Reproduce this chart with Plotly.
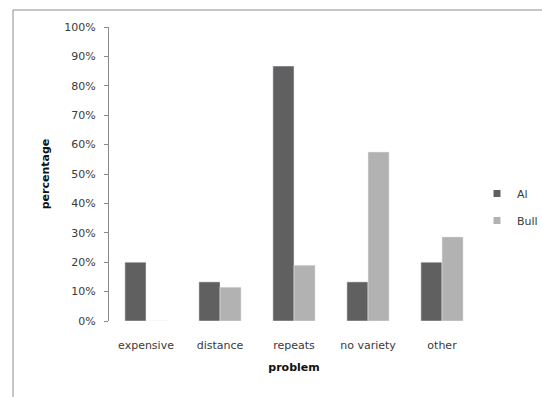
import plotly.graph_objects as go

categories = ["expensive", "distance", "repeats", "no variety", "other"]
al_values = [0.200, 0.133, 0.867, 0.133, 0.200]
bull_values = [0.0, 0.115, 0.190, 0.575, 0.286]
y_ticks = [i / 10 for i in range(11)]
series_names = ["Al", "Bull"]

AL_COLOR = "#606060"
BULL_COLOR = "#b2b2b2"
TEXT_COLOR = "#3a3a3a"
FONT = "DejaVu Sans"

fig = go.Figure()
for name, vals, col in [(series_names[0], al_values, AL_COLOR),
                        (series_names[1], bull_values, BULL_COLOR)]:
    fig.add_trace(go.Bar(name=name, x=categories, y=vals, marker_color=col,
                         showlegend=False))
    # small square legend keys
    fig.add_trace(go.Scatter(name=name, x=[None], y=[None], mode="markers",
                             marker=dict(symbol="square", size=7, color=col),
                             legendgroup=name, showlegend=True))

# plot area: x 109..479, y 27..321 px
L, R, T, B = 109, 63, 27, 76
W, H = 542, 397
pw, ph = W - L - R, H - T - B

fig.update_layout(
    width=W, height=H,
    margin=dict(l=L, r=R, t=T, b=B, autoexpand=False),
    paper_bgcolor="white", plot_bgcolor="white",
    barmode="group", bargap=0.43, bargroupgap=0,
    font=dict(family=FONT, size=11, color=TEXT_COLOR),
    showlegend=True,
    legend=dict(x=(477 - L) / pw, y=(321 - 207) / ph, xanchor="left", yanchor="middle",
                font=dict(size=11, color=TEXT_COLOR), itemwidth=30,
                tracegroupgap=8, bgcolor="rgba(0,0,0,0)"),
    xaxis=dict(
        showline=False, showgrid=False, ticks="", ticklabelstandoff=16,
        title=dict(text="<b>problem</b>", font=dict(size=11, color="#111"), standoff=12),
        tickfont=dict(size=11, color=TEXT_COLOR),
    ),
    yaxis=dict(
        range=[0, 1], tickvals=y_ticks, tickformat=".0%",
        showline=True, linecolor="#8c8c8c", linewidth=1,
        ticks="outside", ticklen=4, tickcolor="#8c8c8c",
        showgrid=False, zeroline=False, ticklabelstandoff=6,
        title=dict(text="<b>percentage</b>", font=dict(size=11, color="#111"), standoff=12),
        tickfont=dict(size=11, color=TEXT_COLOR),
    ),
)

# chart frame: left and top edges
x0 = (13 - L) / pw
y_top = (H - 10 - B) / ph
fig.add_shape(type="line", xref="paper", yref="paper", x0=x0, x1=x0, y0=-B / ph, y1=y_top,
              line=dict(color="#8c8c8c", width=1))
fig.add_shape(type="line", xref="paper", yref="paper", x0=x0, x1=(W - L) / pw, y0=y_top, y1=y_top,
              line=dict(color="#8c8c8c", width=1))

fig.write_html("out.html")
